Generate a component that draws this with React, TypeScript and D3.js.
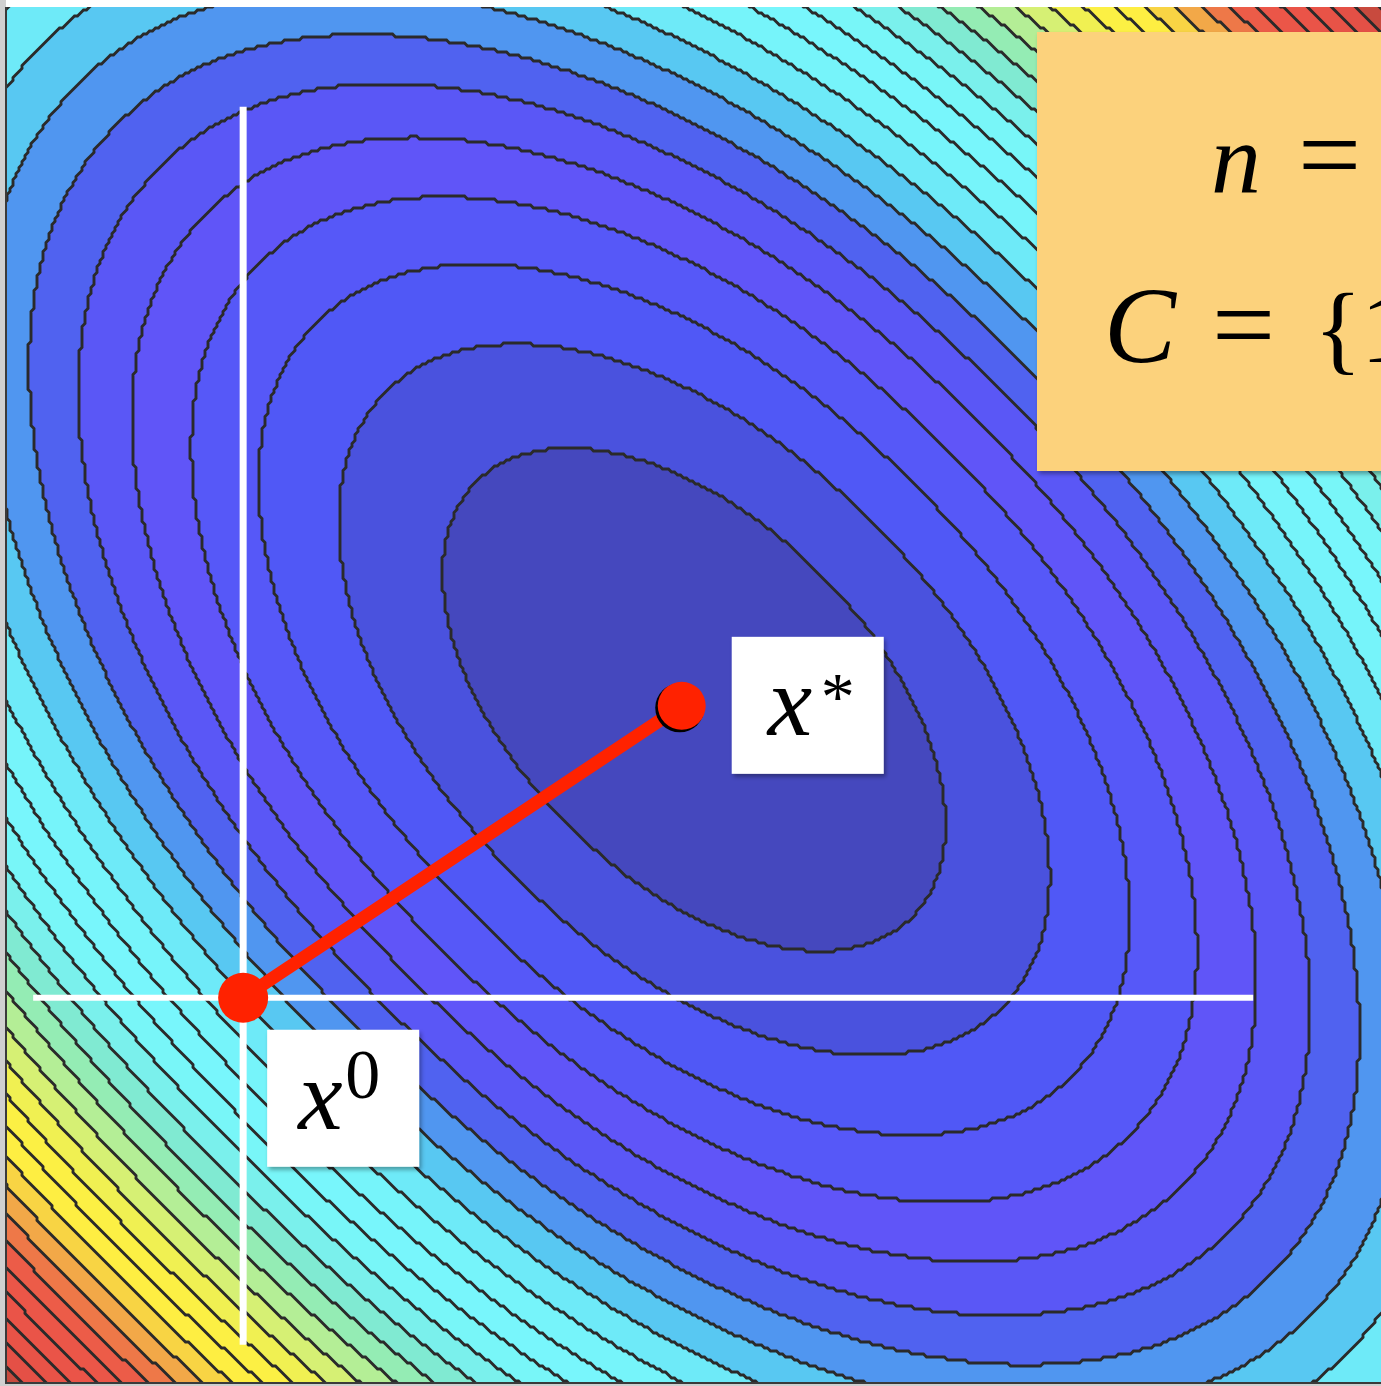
import React, { useMemo } from "react";
import * as d3 from "d3";

// Canvas size
const WIDTH = 1381;
const HEIGHT = 1386;

// Data domain of the square plot
const xDomain = [-1, 1];
const yDomain = [-1, 1];

// Quadratic objective f(x) = (x - c)^T Q (x - c)
const quadCenter = [-0.002, -0.006];
const quadMatrix = [
  [10, 5],
  [5, 10],
];

// Contour levels of f
const contourLevels = [
  1, 2, 3, 4, 5, 6, 7, 8, 9, 10, 11, 12, 13, 14, 15, 16, 17, 18, 19, 20, 21, 22, 23, 24, 25, 26, 27, 28, 29, 30,
];

// Fill colour of each band: index k fills the region k <= f < k + 1
const bandColors = [
  "#4548BE", "#4A52DE", "#5058F6", "#5658F8", "#6055F8", "#5A57F6", "#5062F0", "#5096F0",
  "#58C8F2", "#6EEAF8", "#76F4FA", "#78F6FC", "#78F6F8", "#7AF0EC", "#80EAD2", "#94ECB4",
  "#B4EE96", "#D6F074", "#F0F052", "#FCF044", "#FEEE42", "#F8D444", "#F2A848", "#EE7848",
  "#EC5C48", "#EB5648", "#EA5448", "#E85347", "#E45046", "#C84A3E", "#B04038",
];

// Starting point and minimiser
const startPoint = [-0.657, -0.439];
const optimum = [-0.02, -0.015];

// Coordinate axes drawn through the starting point
const verticalAxisY = [0.855, -0.943];
const horizontalAxisX = [-0.962, 0.81];

// Parameter box text
const paramLines = [
  { lhs: "n", rhs: ["2"] },
  { lhs: "C", rhs: ["{", "1", ",", "2", "}"] },
];

const PLOT_LEFT = 7;
const PLOT_TOP = 7;
const PLOT_SIZE = 1377;
const GRID_STEP = 3;

const SERIF = "'Liberation Serif', 'DejaVu Serif', serif";

function objective(X: number, Y: number): number {
  const dx = X - quadCenter[0];
  const dy = Y - quadCenter[1];
  return (
    quadMatrix[0][0] * dx * dx +
    (quadMatrix[0][1] + quadMatrix[1][0]) * dx * dy +
    quadMatrix[1][1] * dy * dy
  );
}

export default function App() {
  const x = d3.scaleLinear().domain(xDomain).range([PLOT_LEFT, PLOT_LEFT + PLOT_SIZE]);
  const y = d3.scaleLinear().domain(yDomain).range([PLOT_TOP + PLOT_SIZE, PLOT_TOP]);

  const { fills, paths } = useMemo(() => {
    const ox = PLOT_LEFT - 2 * GRID_STEP;
    const oy = PLOT_TOP - 2 * GRID_STEP;
    const nx = Math.ceil((PLOT_SIZE + 4 * GRID_STEP) / GRID_STEP);
    const ny = nx;
    const values = new Float64Array(nx * ny);
    for (let j = 0; j < ny; j++) {
      const py = oy + (j + 0.5) * GRID_STEP;
      const Y = y.invert(py);
      for (let i = 0; i < nx; i++) {
        const px = ox + (i + 0.5) * GRID_STEP;
        values[j * nx + i] = objective(x.invert(px), Y);
      }
    }
    const gen = d3.contours().size([nx, ny]).thresholds(contourLevels).smooth(false);
    const polys = gen(values as unknown as number[]);
    const proj = d3.geoTransform({
      point(px: number, py: number) {
        (this as any).stream.point(ox + px * GRID_STEP, oy + py * GRID_STEP);
      },
    });
    const path = d3.geoPath(proj);
    const ds = polys.map((p) => path(p as any) || "");
    return {
      paths: ds,
      fills: polys.map((p) => {
        const k = contourLevels.indexOf(p.value) + 1;
        return bandColors[Math.min(k, bandColors.length - 1)];
      }),
    };
  }, []);

  const x0 = [x(startPoint[0]), y(startPoint[1])];
  const xs = [x(optimum[0]), y(optimum[1])];

  return (
    <svg
      width={WIDTH}
      height={HEIGHT}
      style={{ position: "absolute", left: 0, top: 0, display: "block" }}
    >
      <defs>
        <clipPath id="plot-clip">
          <rect x={PLOT_LEFT} y={PLOT_TOP} width={PLOT_SIZE} height={PLOT_SIZE} />
        </clipPath>
        <filter id="box-shadow" x="-10%" y="-10%" width="130%" height="130%">
          <feDropShadow dx="2" dy="3" stdDeviation="2" floodColor="#000" floodOpacity="0.35" />
        </filter>
      </defs>

      <rect x={0} y={0} width={WIDTH} height={HEIGHT} fill="#ffffff" />
      <rect x={0} y={0} width={6} height={HEIGHT} fill="#d0d0d0" />
      <rect x={0} y={PLOT_TOP + PLOT_SIZE} width={WIDTH} height={4} fill="#cfcfcf" />

      <g clipPath="url(#plot-clip)">
        <rect x={PLOT_LEFT} y={PLOT_TOP} width={PLOT_SIZE} height={PLOT_SIZE} fill={bandColors[0]} />
        {paths.map((d, i) => (
          <path key={"f" + i} d={d} fill={fills[i]} stroke="none" />
        ))}
        {paths.map((d, i) => (
          <path
            key={"s" + i}
            d={d}
            fill="none"
            stroke="#2a2a2a"
            strokeWidth={2.9}
            strokeLinejoin="miter"
          />
        ))}
      </g>
      <line x1={6} x2={6} y1={PLOT_TOP} y2={PLOT_TOP + PLOT_SIZE} stroke="#3a3a3a" strokeWidth={2} />
      <line x1={6} x2={WIDTH} y1={PLOT_TOP + PLOT_SIZE - 1} y2={PLOT_TOP + PLOT_SIZE - 1} stroke="#3a3a3a" strokeWidth={2} />

      {/* coordinate axes through the starting point */}
      <line
        x1={x(startPoint[0])}
        x2={x(startPoint[0])}
        y1={y(verticalAxisY[0])}
        y2={y(verticalAxisY[1])}
        stroke="#ffffff"
        strokeWidth={7}
      />
      <line
        x1={x(horizontalAxisX[0])}
        x2={x(horizontalAxisX[1])}
        y1={y(startPoint[1])}
        y2={y(startPoint[1])}
        stroke="#ffffff"
        strokeWidth={6}
      />

      {/* step from x^0 to x^* */}
      <line x1={x0[0]} y1={x0[1]} x2={xs[0]} y2={xs[1]} stroke="#FF2200" strokeWidth={13} />
      <circle cx={x0[0]} cy={x0[1]} r={25} fill="#FF2200" />
      <circle cx={xs[0] - 2} cy={xs[1] + 2} r={24.5} fill="#000000" />
      <circle cx={xs[0]} cy={xs[1]} r={24} fill="#FF2200" />

      {/* label x^* */}
      <rect x={xs[0] + 50} y={xs[1] - 69} width={152} height={137} fill="#ffffff" filter="url(#box-shadow)" />
      <text x={xs[0] + 86} y={xs[1] + 29} fontFamily={SERIF} fontStyle="italic" fontSize={100} fill="#000">
        x
      </text>
      <text x={xs[0] + 139} y={xs[1] + 13} fontFamily={SERIF} fontSize={68} fill="#000">
        *
      </text>

      {/* label x^0 */}
      <rect x={x0[0] + 24} y={x0[1] + 32} width={152} height={137} fill="#ffffff" filter="url(#box-shadow)" />
      <text x={x0[0] + 55} y={x0[1] + 131} fontFamily={SERIF} fontStyle="italic" fontSize={100} fill="#000">
        x
      </text>
      <text x={x0[0] + 102} y={x0[1] + 100} fontFamily={SERIF} fontSize={70} fill="#000">
        0
      </text>

      {/* parameter box */}
      <rect x={1037} y={32} width={420} height={439} fill="#FCD27B" filter="url(#box-shadow)" />
      <text y={192} fontFamily={SERIF} fontSize={100} fill="#000">
        <tspan x={1211} fontStyle="italic">{paramLines[0].lhs}</tspan>
        <tspan x={1298} fontSize={112}>=</tspan>
        <tspan x={1400}>{paramLines[0].rhs.join("")}</tspan>
      </text>
      <text y={362} fontFamily={SERIF} fontSize={100} fill="#000">
        <tspan x={1104} fontStyle="italic" fontSize={108}>{paramLines[1].lhs}</tspan>
        <tspan x={1212} fontSize={112}>=</tspan>
        <tspan x={1314}>{paramLines[1].rhs[0]}</tspan>
        <tspan x={1361}>{paramLines[1].rhs.slice(1).join("")}</tspan>
      </text>
    </svg>
  );
}
